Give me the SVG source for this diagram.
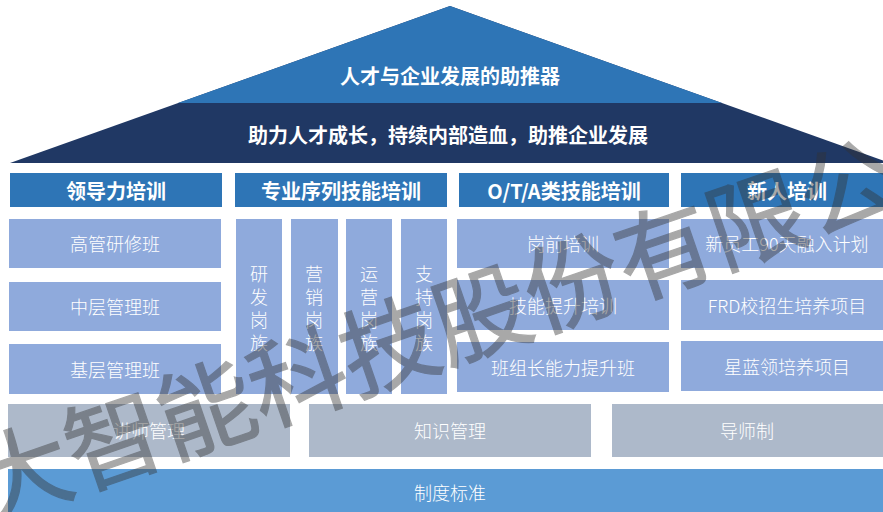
<svg xmlns="http://www.w3.org/2000/svg" width="883" height="512" viewBox="0 0 883 512">
<style>
text{font-family:"Noto Sans CJK SC","Noto Sans",sans-serif;fill:#fff;text-anchor:middle;dominant-baseline:central}
.hd{fill:#2E75B6}
.it{fill:#8FAADC}
.gr{fill:#ADB9CA}
.b{font-weight:bold;font-size:20px}
.t{font-size:18px;font-weight:300}
.h{font-size:20px;font-weight:bold}
.wm{fill:#333;stroke:#333;stroke-width:1.2px;opacity:0.42;font-size:97px;font-weight:400;text-anchor:start;dominant-baseline:alphabetic}
</style>
<rect width="883" height="512" fill="#fff"/>
<g id="roof">
<polygon points="450,6 10,163 890,163" fill="#203864"/>
<polygon points="450,6 178,103 722,103" fill="#2E75B6"/>
<text x="450" y="75" class="b">人才与企业发展的助推器</text>
<text x="448" y="134" class="b">助力人才成长，持续内部造血，助推企业发展</text>
</g>
<g id="h1"><rect class="hd" x="10" y="173" width="212" height="34"/><text class="h" x="116" y="190">领导力培训</text></g>
<g id="h2"><rect class="hd" x="235" y="173" width="212" height="34"/><text class="h" x="341" y="190">专业序列技能培训</text></g>
<g id="h3"><rect class="hd" x="459" y="173" width="210" height="34"/><text class="h" x="564" y="190">O/T/A类技能培训</text></g>
<g id="h4"><rect class="hd" x="681" y="173" width="202" height="34"/><text class="h" x="787" y="190">新人培训</text></g>
<g id="l1"><rect class="it" x="9" y="219" width="212" height="49"/><text class="t" x="115" y="243">高管研修班</text></g>
<g id="l2"><rect class="it" x="9" y="282" width="212" height="49"/><text class="t" x="115" y="306">中层管理班</text></g>
<g id="l3"><rect class="it" x="9" y="344" width="212" height="50"/><text class="t" x="115" y="369">基层管理班</text></g>
<g id="v1"><rect class="it" x="236" y="219" width="46" height="175"/><text class="t" x="259"><tspan x="259" y="273">研</tspan><tspan x="259" y="296">发</tspan><tspan x="259" y="319">岗</tspan><tspan x="259" y="342">族</tspan></text></g>
<g id="v2"><rect class="it" x="291" y="219" width="47" height="175"/><text class="t" x="314"><tspan x="314" y="273">营</tspan><tspan x="314" y="296">销</tspan><tspan x="314" y="319">岗</tspan><tspan x="314" y="342">族</tspan></text></g>
<g id="v3"><rect class="it" x="346" y="219" width="46" height="175"/><text class="t" x="369"><tspan x="369" y="273">运</tspan><tspan x="369" y="296">营</tspan><tspan x="369" y="319">岗</tspan><tspan x="369" y="342">族</tspan></text></g>
<g id="v4"><rect class="it" x="401" y="219" width="46" height="175"/><text class="t" x="424"><tspan x="424" y="273">支</tspan><tspan x="424" y="296">持</tspan><tspan x="424" y="319">岗</tspan><tspan x="424" y="342">族</tspan></text></g>
<g id="o1"><rect class="it" x="457" y="219" width="212" height="49"/><text class="t" x="563" y="243">岗前培训</text></g>
<g id="o2"><rect class="it" x="457" y="280" width="212" height="50"/><text class="t" x="563" y="305">技能提升培训</text></g>
<g id="o3"><rect class="it" x="457" y="342" width="212" height="50"/><text class="t" x="563" y="367">班组长能力提升班</text></g>
<g id="n1"><rect class="it" x="681" y="219" width="202" height="49"/><text class="t" x="787" y="243">新员工90天融入计划</text></g>
<g id="n2"><rect class="it" x="681" y="280" width="202" height="50"/><text class="t" x="787" y="305">FRD校招生培养项目</text></g>
<g id="n3"><rect class="it" x="681" y="341" width="202" height="50"/><text class="t" x="787" y="366">星蓝领培养项目</text></g>
<g id="g1"><rect class="gr" x="8" y="404" width="282" height="53"/><text class="t" x="149" y="430">讲师管理</text></g>
<g id="g2"><rect class="gr" x="309" y="404" width="282" height="53"/><text class="t" x="450" y="430">知识管理</text></g>
<g id="g3"><rect class="gr" x="612" y="404" width="271" height="53"/><text class="t" x="747" y="430">导师制</text></g>
<g id="base"><rect x="8" y="469" width="875" height="43" fill="#5B9BD5"/><text class="t" x="450" y="492">制度标准</text></g>
<g id="connectors"></g>
<text class="wm" x="-12" y="522" transform="rotate(-19 -12 522)">大智能科技股份有限公</text>
</svg>
